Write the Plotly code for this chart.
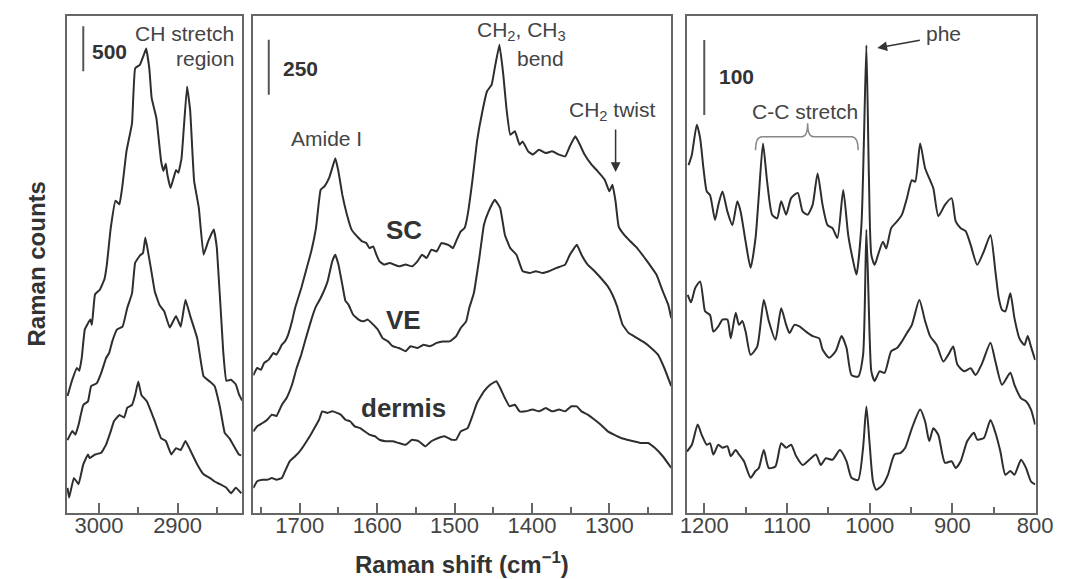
import plotly.graph_objects as go

# ---------------- data (Raman counts, offset-stacked spectra) ----------------
# Panel 1: CH stretch region
p1_sc_x = [3040, 3034, 3028, 3025, 3022, 3018, 3011, 3009, 3005, 2999, 2993, 2990, 2985, 2979, 2974, 2970, 2965, 2958, 2954, 2948, 2943, 2940, 2936, 2933, 2927, 2921, 2918, 2915, 2913, 2909, 2902, 2899, 2895, 2888, 2884, 2879, 2873, 2867, 2861, 2854, 2850, 2842, 2838, 2832, 2826, 2822, 2818]
p1_sc_y = [1300, 1480, 1610, 1580, 1720, 2040, 2150, 2090, 2430, 2480, 2600, 2760, 3170, 3470, 3430, 3650, 4020, 4330, 4940, 4980, 5090, 5160, 4940, 4610, 4390, 3910, 3800, 3880, 3760, 3610, 3810, 3780, 3940, 4740, 4470, 3690, 3390, 2870, 3020, 3150, 2940, 1800, 1470, 1480, 1430, 1320, 1250]
p1_ve_x = [3040, 3034, 3030, 3026, 3020, 3014, 3010, 3003, 2997, 2991, 2987, 2983, 2977, 2970, 2964, 2958, 2954, 2948, 2944, 2941, 2937, 2934, 2929, 2923, 2917, 2910, 2902, 2896, 2890, 2884, 2875, 2867, 2859, 2853, 2846, 2840, 2834, 2822, 2819]
p1_ve_y = [810, 910, 870, 980, 1200, 1240, 1410, 1440, 1560, 1720, 1780, 1910, 2040, 2070, 2280, 2440, 2780, 2860, 2890, 3060, 2870, 2720, 2460, 2310, 2240, 2060, 2190, 2070, 2370, 2190, 1940, 1520, 1460, 1410, 1170, 890, 830, 650, 640]
p1_de_x = [3040, 3038, 3032, 3026, 3020, 3014, 3012, 3005, 2997, 2991, 2985, 2981, 2974, 2968, 2964, 2958, 2954, 2950, 2946, 2939, 2929, 2921, 2915, 2908, 2902, 2896, 2890, 2884, 2875, 2867, 2859, 2853, 2846, 2838, 2832, 2826, 2819]
p1_de_y = [280, 170, 390, 320, 540, 650, 610, 650, 670, 760, 910, 1020, 1090, 1060, 1170, 1200, 1310, 1460, 1310, 1240, 1020, 830, 800, 650, 720, 700, 800, 700, 540, 430, 390, 350, 320, 280, 220, 280, 220]

# Panel 2: fingerprint 1760-1220
p2_sc_x = [1760, 1755, 1750, 1746, 1740, 1734, 1730, 1723, 1719, 1715, 1710, 1706, 1702, 1698, 1692, 1685, 1679, 1673, 1668, 1662, 1658, 1654, 1650, 1645, 1639, 1633, 1628, 1624, 1620, 1614, 1610, 1605, 1601, 1597, 1591, 1584, 1578, 1572, 1563, 1555, 1548, 1542, 1536, 1530, 1523, 1517, 1508, 1502, 1498, 1492, 1487, 1483, 1477, 1471, 1464, 1458, 1452, 1448, 1442, 1437, 1433, 1428, 1422, 1416, 1412, 1405, 1399, 1391, 1382, 1374, 1365, 1357, 1351, 1344, 1338, 1332, 1323, 1315, 1306, 1300, 1296, 1292, 1288, 1281, 1273, 1264, 1256, 1248, 1239, 1231, 1224, 1220]
p2_sc_y = [626, 659, 651, 682, 697, 727, 720, 765, 780, 810, 871, 932, 977, 1023, 1100, 1191, 1295, 1469, 1485, 1523, 1568, 1613, 1553, 1447, 1356, 1288, 1265, 1250, 1236, 1227, 1204, 1212, 1174, 1144, 1129, 1136, 1129, 1121, 1129, 1121, 1144, 1174, 1159, 1197, 1189, 1227, 1219, 1204, 1235, 1280, 1295, 1356, 1508, 1689, 1826, 1917, 1947, 2023, 2128, 1992, 1841, 1719, 1735, 1674, 1689, 1644, 1629, 1651, 1636, 1644, 1629, 1621, 1667, 1712, 1674, 1629, 1583, 1553, 1515, 1462, 1492, 1417, 1303, 1265, 1235, 1204, 1167, 1129, 1083, 1008, 947, 886]
p2_ve_x = [1760, 1755, 1748, 1742, 1736, 1730, 1723, 1717, 1710, 1704, 1698, 1692, 1685, 1679, 1673, 1664, 1658, 1654, 1650, 1645, 1641, 1637, 1631, 1624, 1618, 1612, 1605, 1599, 1593, 1586, 1580, 1572, 1563, 1557, 1548, 1540, 1532, 1523, 1515, 1506, 1498, 1492, 1485, 1481, 1475, 1468, 1462, 1456, 1448, 1441, 1435, 1428, 1420, 1412, 1403, 1395, 1386, 1378, 1368, 1357, 1351, 1342, 1336, 1328, 1319, 1311, 1302, 1296, 1290, 1283, 1275, 1264, 1254, 1246, 1237, 1229, 1220]
p2_ve_y = [371, 394, 409, 424, 447, 441, 492, 523, 583, 659, 720, 795, 879, 939, 977, 1053, 1144, 1174, 1129, 1038, 964, 947, 901, 879, 871, 879, 856, 833, 795, 780, 758, 750, 735, 758, 750, 765, 758, 773, 780, 780, 803, 841, 871, 932, 1000, 1159, 1310, 1371, 1424, 1386, 1265, 1204, 1174, 1099, 1091, 1099, 1091, 1099, 1114, 1129, 1174, 1219, 1174, 1129, 1099, 1068, 1030, 992, 939, 856, 818, 795, 773, 750, 719, 659, 576]
p2_de_x = [1760, 1755, 1748, 1742, 1736, 1730, 1723, 1719, 1713, 1706, 1700, 1694, 1687, 1681, 1675, 1671, 1664, 1658, 1652, 1647, 1641, 1635, 1629, 1622, 1616, 1610, 1603, 1597, 1589, 1580, 1572, 1563, 1555, 1546, 1538, 1530, 1521, 1513, 1504, 1498, 1492, 1483, 1477, 1471, 1462, 1454, 1446, 1441, 1435, 1429, 1422, 1416, 1408, 1399, 1391, 1382, 1374, 1365, 1357, 1349, 1342, 1336, 1328, 1319, 1311, 1302, 1294, 1285, 1277, 1269, 1260, 1250, 1241, 1231, 1220]
p2_de_y = [114, 144, 151, 151, 159, 151, 159, 190, 235, 258, 280, 310, 349, 386, 424, 462, 455, 462, 455, 447, 424, 417, 394, 386, 371, 356, 349, 333, 326, 326, 318, 310, 333, 326, 303, 326, 341, 349, 333, 333, 371, 386, 440, 500, 553, 583, 599, 568, 523, 485, 492, 462, 462, 470, 462, 477, 462, 470, 462, 485, 485, 462, 447, 424, 401, 371, 356, 341, 333, 326, 318, 318, 295, 258, 205]

# Panel 3: 1220-800
p3_sc_x = [1219, 1215, 1209, 1205, 1201, 1197, 1193, 1187, 1183, 1178, 1172, 1166, 1160, 1156, 1150, 1144, 1138, 1134, 1129, 1124, 1118, 1112, 1107, 1101, 1095, 1087, 1081, 1075, 1069, 1063, 1057, 1051, 1045, 1039, 1032, 1026, 1020, 1016, 1010, 1007, 1004, 1001, 998, 994, 990, 984, 980, 974, 967, 961, 955, 949, 945, 939, 933, 927, 923, 917, 909, 901, 896, 890, 884, 878, 870, 862, 854, 848, 844, 840, 836, 830, 825, 819, 813, 809, 805, 800]
p3_sc_y = [464, 478, 518, 500, 460, 429, 424, 391, 411, 429, 402, 384, 416, 402, 362, 327, 367, 424, 493, 442, 398, 393, 416, 398, 420, 427, 402, 398, 411, 453, 411, 384, 380, 367, 431, 371, 336, 318, 384, 496, 624, 452, 344, 331, 344, 362, 353, 380, 389, 398, 420, 444, 442, 493, 460, 444, 433, 396, 411, 420, 389, 380, 376, 358, 331, 349, 371, 322, 287, 271, 269, 293, 260, 233, 224, 236, 222, 204]
p3_ve_x = [1220, 1216, 1211, 1205, 1201, 1199, 1193, 1189, 1183, 1178, 1172, 1168, 1162, 1158, 1154, 1150, 1144, 1136, 1128, 1122, 1114, 1107, 1101, 1097, 1091, 1085, 1077, 1069, 1061, 1057, 1049, 1041, 1034, 1028, 1022, 1014, 1008, 1004, 1000, 998, 994, 988, 982, 974, 967, 961, 955, 949, 940, 933, 927, 919, 911, 905, 899, 894, 886, 878, 872, 864, 854, 848, 840, 830, 825, 817, 811, 805, 800]
p3_ve_y = [291, 281, 300, 309, 282, 269, 264, 242, 249, 258, 258, 233, 267, 251, 256, 242, 211, 222, 284, 256, 231, 273, 251, 240, 251, 249, 242, 236, 233, 218, 207, 216, 236, 220, 184, 182, 211, 378, 233, 189, 176, 189, 187, 216, 220, 229, 240, 251, 284, 256, 236, 224, 202, 211, 222, 198, 189, 193, 184, 200, 227, 202, 171, 187, 171, 153, 149, 138, 118]
p3_de_x = [1221, 1215, 1208, 1203, 1197, 1193, 1189, 1183, 1178, 1172, 1168, 1162, 1158, 1152, 1144, 1138, 1134, 1128, 1122, 1114, 1107, 1101, 1095, 1089, 1081, 1073, 1065, 1059, 1053, 1045, 1036, 1028, 1022, 1014, 1008, 1004, 1000, 996, 992, 984, 978, 970, 963, 957, 949, 939, 933, 928, 923, 917, 909, 901, 896, 890, 882, 874, 870, 862, 854, 848, 842, 836, 830, 825, 817, 811, 805, 800]
p3_de_y = [82, 91, 118, 104, 91, 93, 78, 91, 87, 89, 76, 84, 78, 69, 47, 56, 60, 84, 60, 62, 93, 87, 91, 76, 64, 71, 78, 64, 73, 71, 84, 69, 47, 44, 87, 142, 91, 42, 31, 38, 51, 78, 80, 87, 113, 138, 122, 96, 113, 104, 67, 69, 60, 69, 96, 107, 98, 100, 124, 107, 82, 51, 56, 51, 71, 60, 42, 38]

scale_bar_values = [500, 250, 100]
sample_labels = ["SC", "VE", "dermis"]

# ---------------- figure ----------------
W, H = 1068, 579
FONT = "Liberation Sans, Arial, Helvetica, sans-serif"
LINE = "#2e2e2e"
FRAME = "#666666"

def px(x):
    return x / W

def py(y):
    return 1 - y / H

fig = go.Figure()

panels = [
    (1, [(p1_sc_x, p1_sc_y), (p1_ve_x, p1_ve_y), (p1_de_x, p1_de_y)], 0.3),
    (2, [(p2_sc_x, p2_sc_y), (p2_ve_x, p2_ve_y), (p2_de_x, p2_de_y)], 0.3),
    (3, [(p3_sc_x, p3_sc_y), (p3_ve_x, p3_ve_y), (p3_de_x, p3_de_y)], 0.6),
]
for idx, traces, smooth in panels:
    suffix = "" if idx == 1 else str(idx)
    for (xs, ys), name in zip(traces, sample_labels):
        fig.add_trace(go.Scatter(
            x=xs, y=ys, mode="lines", name=name, showlegend=False,
            line=dict(color=LINE, width=2, shape="spline", smoothing=smooth),
            xaxis="x" + suffix, yaxis="y" + suffix,
            hoverinfo="skip",
        ))

ydom = [py(505), py(8)]
xdoms = [[px(53), px(232.5)], [px(244), px(672)], [px(688), px(1045)]]
xranges = [[3041, 2818], [1760, 1220], [1221, 799.5]]
yranges = [[0, 5522], [0, 2259], [0, 663]]

axis_common = dict(
    showline=True, mirror=True, linecolor=FRAME, linewidth=2,
    showgrid=False, zeroline=False,
)
layout = dict(
    width=W, height=H,
    margin=dict(l=0, r=0, t=0, b=0),
    paper_bgcolor="white", plot_bgcolor="white",
    font=dict(family=FONT, color="#444444"),
)
for i in range(3):
    suffix = "" if i == 0 else str(i + 1)
    layout["xaxis" + suffix] = dict(
        axis_common,
        domain=xdoms[i], range=xranges[i], anchor="y" + suffix,
        ticks="inside", ticklen=10, tickwidth=1.5, tickcolor=FRAME,
        tick0=0, dtick=100,
        minor=dict(ticks="inside", ticklen=6, tickwidth=1.5, tickcolor=FRAME, dtick=50, tick0=0),
        tickfont=dict(family=FONT, size=22, color="#444444"),
        ticklabelstandoff=-8,
    )
    layout["yaxis" + suffix] = dict(
        axis_common,
        domain=ydom, range=yranges[i], anchor="x" + suffix,
        showticklabels=False, ticks="",
    )
fig.update_layout(**layout)

# scale bars (data coordinates)
scale_pos = [(3020, 4907, "x", "y"), (1740, 1901, "x2", "y2"), (1200, 531, "x3", "y3")]
for val, (xb, yb, xr, yr) in zip(scale_bar_values, scale_pos):
    fig.add_shape(type="line", x0=xb, x1=xb, y0=yb, y1=yb + val,
                  xref=xr, yref=yr, line=dict(color="#555555", width=2))

# C-C stretch brace
fig.add_shape(type="path", xref="x3", yref="y3",
              path="M 1138,484 Q 1138,502 1130,502 L 1082,502 Q 1075,502 1075,520 "
                   "Q 1075,502 1068,502 L 1022,502 Q 1014,502 1014,484",
              line=dict(color="#888888", width=1.5))

ann = []
def text(t, x, y, size=21, bold=False, xanchor="center", color="#444444", angle=0):
    ann.append(dict(
        text=("<b>%s</b>" % t) if bold else t,
        x=px(x), y=py(y), xref="paper", yref="paper",
        xanchor=xanchor, yanchor="middle", showarrow=False,
        textangle=angle,
        font=dict(family=FONT, size=size, color=color),
    ))

text("CH stretch", 226, 25, xanchor="right")
text("region", 226, 50, xanchor="right")
text(str(scale_bar_values[0]), 77, 43, size=21, bold=True, xanchor="left", color="#333333")
text(str(scale_bar_values[1]), 272, 60, size=21, bold=True, xanchor="left", color="#333333")
text(str(scale_bar_values[2]), 719, 68, size=21, bold=True, xanchor="left", color="#333333")
text("Amide I", 319, 130)
text("CH<sub>2</sub>, CH<sub>3</sub>", 566, 23, xanchor="right")
text("bend", 564, 51, xanchor="right")
text("CH<sub>2</sub> twist", 612, 103)
text(sample_labels[0], 398, 222, size=26, bold=True, color="#333333")
text(sample_labels[1], 398, 312, size=26, bold=True, color="#333333")
text(sample_labels[2], 398, 400, size=26, bold=True, color="#333333")
text("phe", 951, 25)
text("C-C stretch", 809, 103)
text("Raman counts", 22, 256, size=24, bold=True, color="#333333", angle=-90)
text("Raman shift (cm<sup>−1</sup>)", 458, 555, size=24, bold=True, color="#333333")

# arrows
ann.append(dict(text="", x=px(615), y=py(164), xref="paper", yref="paper",
                ax=0, ay=-44, showarrow=True, arrowhead=2, arrowsize=1.3,
                arrowwidth=1.5, arrowcolor="#333333"))
ann.append(dict(text="", x=px(883), y=py(40), xref="paper", yref="paper",
                ax=44, ay=-8, showarrow=True, arrowhead=2, arrowsize=1.3,
                arrowwidth=1.5, arrowcolor="#333333"))
fig.update_layout(annotations=ann)

fig.write_html("out.html")
